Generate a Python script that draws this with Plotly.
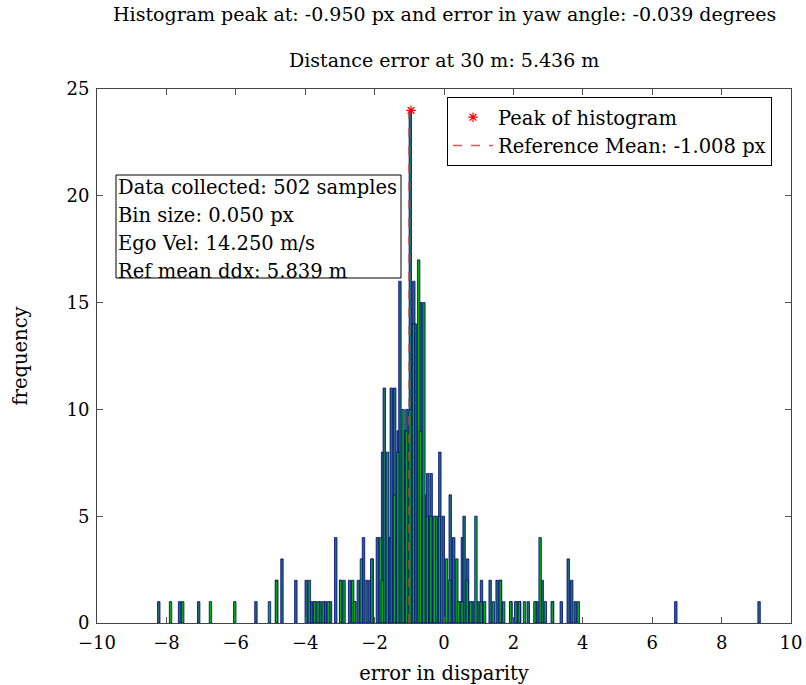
import plotly.graph_objects as go

# Series A (blue/teal bars): bar positions (px error) and counts
a_x = [-8.20, -7.60, -7.05, -5.40, -4.80, -4.65, -4.25, -3.95, -3.80, -3.70, -3.55, -3.40,
       -3.25, -3.10, -2.95, -2.70, -2.55, -2.45, -2.30, -2.20, -2.05, -1.90, -1.75, -1.70,
       -1.55, -1.50, -1.40, -1.30, -1.25, -1.15, -1.05, -0.95, -0.85, -0.80, -0.65, -0.55,
       -0.45, -0.35, -0.20, -0.10, 0.00, 0.20, 0.30, 0.45, 0.55, 0.60, 0.70, 0.85, 1.00,
       1.10, 1.35, 1.55, 1.65, 1.95, 2.10, 2.20, 2.45, 2.70, 2.85, 3.15, 3.40, 3.60, 3.70,
       3.80, 6.70, 9.10]
a_y = [1, 1, 1, 1, 2, 3, 2, 2, 1, 1, 1, 1,
       1, 4, 2, 2, 1, 2, 4, 2, 3, 4, 8, 11,
       4, 11, 11, 9, 16, 9, 10, 24, 16, 14, 15, 6,
       7, 7, 5, 8, 5, 6, 4, 1, 4, 5, 3, 1, 1,
       2, 2, 2, 2, 1, 1, 1, 1, 1, 2, 1, 1, 3, 2,
       1, 1, 1]

# Series B (green bars)
b_x = [-7.90, -7.55, -6.75, -6.05, -5.05, -4.85, -3.90, -3.75, -3.65, -3.50, -3.35, -3.00,
       -2.90, -2.65, -2.60, -2.40, -2.15, -2.10, -1.85, -1.80, -1.65, -1.45, -1.35, -1.20,
       -1.10, -1.00, -0.90, -0.75, -0.70, -0.60, -0.50, -0.40, -0.30, -0.15, 0.05, 0.15,
       0.35, 0.40, 0.50, 0.65, 0.75, 0.90, 1.05, 1.15, 1.40, 1.60, 1.70, 1.90, 2.05, 2.15,
       2.30, 2.60, 2.75, 2.90, 3.10, 3.85]
b_y = [1, 1, 1, 1, 1, 2, 2, 1, 1, 1, 1, 2,
       2, 2, 1, 3, 2, 3, 4, 2, 8, 6, 8, 10,
       9, 10, 14, 17, 9, 15, 5, 5, 5, 5, 3, 2,
       3, 1, 1, 2, 1, 5, 1, 1, 1, 2, 1, 1, 1, 1,
       1, 1, 4, 1, 1, 1]

peak_x = [-0.95]
peak_y = [24]
ref_mean = -1.008

title1 = "Histogram peak at: -0.950 px and error in yaw angle: -0.039 degrees"
title2 = "Distance error at 30 m: 5.436 m"
info_lines = ["Data collected: 502 samples", "Bin size: 0.050 px",
              "Ego Vel: 14.250 m/s", "Ref mean ddx: 5.839 m"]

x_ticks = list(range(-10, 11, 2))
y_ticks = list(range(0, 26, 5))

FONT = "DejaVu Serif"
NAVY = "#00008b"

# plot-area geometry in pixels (used to place the info box)
L, R, T, B = 97, 791, 89, 623
def px_x(p):
    return (p - L) / (R - L)
def px_y(p):
    return (B - p) / (B - T)

fig = go.Figure()
fig.add_trace(go.Bar(x=a_x, y=a_y, width=0.07, offset=-0.055,
                     marker=dict(color="#1f6f66", line=dict(color=NAVY, width=0.8)),
                     showlegend=False, hoverinfo="x+y"))
fig.add_trace(go.Bar(x=b_x, y=b_y, width=0.07, offset=-0.015,
                     marker=dict(color="#00b400", line=dict(color=NAVY, width=0.8)),
                     showlegend=False, hoverinfo="x+y"))
fig.add_trace(go.Scatter(x=peak_x, y=peak_y, mode="markers", name="Peak of histogram",
                         marker=dict(symbol="asterisk-open", size=8, color="red",
                                     line=dict(color="red", width=1.2))))
fig.add_trace(go.Scatter(x=[ref_mean, ref_mean], y=[0, max(peak_y)], mode="lines",
                         name="Reference Mean: -1.008 px",
                         line=dict(color="rgba(215,60,60,0.85)", width=1.5, dash="dash")))

annotations = [
    dict(text=title1, xref="paper", yref="paper", x=0.5, y=1.0, yshift=75,
         xanchor="center", yanchor="middle", showarrow=False, font=dict(size=19)),
    dict(text=title2, xref="paper", yref="paper", x=0.5, y=1.0, yshift=29,
         xanchor="center", yanchor="middle", showarrow=False, font=dict(size=19)),
]
for i, line in enumerate(info_lines):
    annotations.append(dict(text=line, xref="paper", yref="paper",
                            x=px_x(116), y=px_y(187 + 28 * i), xanchor="left",
                            yanchor="middle", showarrow=False, font=dict(size=19.5)))

fig.update_layout(
    width=806, height=685,
    margin=dict(l=L, r=806 - R, t=T, b=685 - B),
    paper_bgcolor="white", plot_bgcolor="white",
    barmode="overlay",
    font=dict(family=FONT, size=18, color="black"),
    legend=dict(x=px_x(447), y=px_y(97), xanchor="left", yanchor="top",
                bordercolor="black", borderwidth=1, bgcolor="white",
                font=dict(size=19.5), tracegroupgap=0, itemwidth=40),
    annotations=annotations,
    shapes=[dict(type="rect", xref="paper", yref="paper",
                 x0=px_x(116), x1=px_x(401), y0=px_y(278), y1=px_y(175),
                 line=dict(color="black", width=1))],
)
fig.update_xaxes(range=[-10, 10], tickvals=x_ticks, ticks="inside", ticklen=6,
                 tickcolor="#555", showline=True, linecolor="#444", linewidth=1,
                 mirror="ticks", showgrid=False, zeroline=False, automargin=False,
                 ticklabelstandoff=3,
                 title=dict(text="error in disparity", font=dict(size=19.5), standoff=15))
fig.update_yaxes(range=[0, 25], tickvals=y_ticks, ticks="inside", ticklen=6,
                 tickcolor="#555", showline=True, linecolor="#444", linewidth=1,
                 mirror="ticks", showgrid=False, zeroline=False, automargin=False,
                 ticklabelstandoff=3,
                 title=dict(text="frequency", font=dict(size=19.5), standoff=33))

fig.write_html("out.html")
